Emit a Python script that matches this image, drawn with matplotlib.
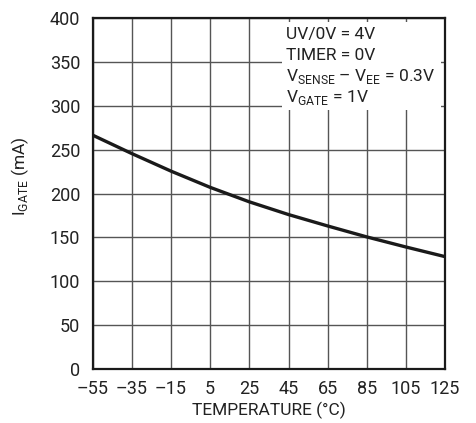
import matplotlib.pyplot as plt
from matplotlib.patches import Rectangle

plt.rcParams['font.family'] = ['Roboto', 'DejaVu Sans']
plt.rcParams['mathtext.fontset'] = 'custom'
plt.rcParams['mathtext.rm'] = 'Roboto'

# curve
temp = [-55, -35, -15, 5, 25, 45, 65, 85, 105, 125]
igate = [266.5, 245.5, 225.5, 207.0, 190.5, 176.0, 163.0, 150.5, 139.0, 128.0]

xticks = [-55, -35, -15, 5, 25, 45, 65, 85, 105, 125]
xticklabels = ['\u201355', '\u201335', '\u201315', '5', '25', '45', '65', '85', '105', '125']
yticks = [0, 50, 100, 150, 200, 250, 300, 350, 400]

notes = ['UV/0V = 4V', 'TIMER = 0V',
         'V$_{\\mathregular{SENSE}}$ \u2013 V$_{\\mathregular{EE}}$ = 0.3V',
         'V$_{\\mathregular{GATE}}$ = 1V']

fig = plt.figure(figsize=(4.76, 4.23), dpi=100)
ax = fig.add_axes([0.195, 0.128, 0.74, 0.829])

ax.plot(temp, igate, color='#1a1a1a', lw=2.4, zorder=3,
        solid_joinstyle='round')

ax.set_xlim(-55, 125)
ax.set_ylim(0, 400)
ax.set_xticks(xticks)
ax.set_xticklabels(xticklabels)
ax.set_yticks(yticks)
ax.set_axisbelow(True)
ax.grid(True, color='#555555', lw=1.0)
ax.tick_params(axis='x', length=0, labelsize=13, colors='#222222', pad=8)
ax.tick_params(axis='y', length=0, labelsize=13, colors='#222222', pad=9)
for s in ax.spines.values():
    s.set_linewidth(1.6)
    s.set_color('#1a1a1a')

# white box behind the condition notes
ax.add_patch(Rectangle((41.6, 295.5), 81.4, 100.5, facecolor='white',
                       edgecolor='none', zorder=1))
for i, t in enumerate(notes):
    ax.text(43.5, 381 - i * 24.0, t, fontsize=12.5, color='#222222',
            va='center', ha='left', zorder=4)

ax.set_xlabel('TEMPERATURE (\u00b0C)', fontsize=12.5, color='#222222', labelpad=3)
ax.set_ylabel('I$_{\\mathregular{GATE}}$ (mA)', fontsize=12.5, color='#222222')
ax.yaxis.set_label_coords(-0.175, 0.55)

fig.savefig('out.png', dpi=100)
